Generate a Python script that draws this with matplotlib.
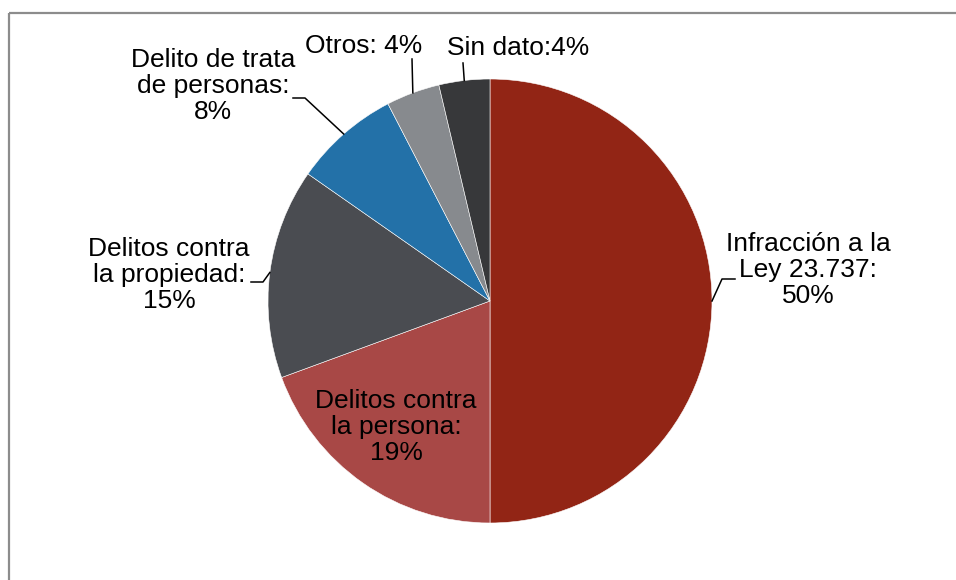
import numpy as np
import matplotlib
matplotlib.use('Agg')
import matplotlib.pyplot as plt

labels = ['Infracción a la\nLey 23.737:\n50%',
          'Delitos contra\nla persona:\n19%',
          'Delitos contra\nla propiedad:\n15%',
          'Delito de trata\nde personas:\n8%',
          'Otros: 4%',
          'Sin dato:4%']
values = [50.0, 19.4, 15.3, 7.7, 3.9, 3.7]
colors = ['#922515', '#A84846', '#4A4C51', '#2371A8', '#878A8E', '#37383A']

W, H = 956, 580
fig = plt.figure(figsize=(W / 100, H / 100), dpi=100)
ax = fig.add_axes([0, 0, 1, 1])
ax.axis('off')


def px(x, y):
    # pixel coords (top-left origin) -> data coords
    return x, H - y


cx, cy = px(490, 301)
R = 222
wedges, _ = ax.pie(values, colors=colors, startangle=90, counterclock=False,
                   center=(cx, cy), radius=R, frame=False,
                   wedgeprops=dict(edgecolor='white', linewidth=0.4))
ax.set_xlim(0, W)
ax.set_ylim(0, H)
ax.set_aspect('equal')

# frame (cropped chart border)
ax.plot([9.5, W], [H - 13, H - 13], color='#8c8c8c', lw=1.6, solid_capstyle='butt')
ax.plot([9.5, 9.5], [0, H - 13], color='#8c8c8c', lw=1.6, solid_capstyle='butt')

# label centres and leader line elbows (pixel coords)
text_pos = [(808, 270), (396, 427), (169, 275), (213, 86), (364, 46), (518, 48)]
leaders = [
    [(722, 279), (735, 279)],
    None,
    [(263, 282), (251, 282)],
    [(305, 98), (293, 98)],
    [(412, 59)],
    [(463, 63)],
]

cum = np.cumsum([0] + values[:-1])
for i, w in enumerate(wedges):
    tx, ty = px(*text_pos[i])
    ax.text(tx, ty, labels[i], ha='center', va='center', fontsize=19,
            family='Liberation Sans', linespacing=1.08, color='black')
    if leaders[i] is None:
        continue
    mid = 90 - (cum[i] + values[i] / 2) / sum(values) * 360
    ax0 = cx + R * np.cos(np.radians(mid))
    ay0 = cy + R * np.sin(np.radians(mid))
    pts = [(ax0, ay0)] + [px(*p) for p in leaders[i]]
    xs, ys = zip(*pts)
    ax.plot(xs, ys, color='black', lw=1.1)

fig.savefig('out.png', dpi=100)
